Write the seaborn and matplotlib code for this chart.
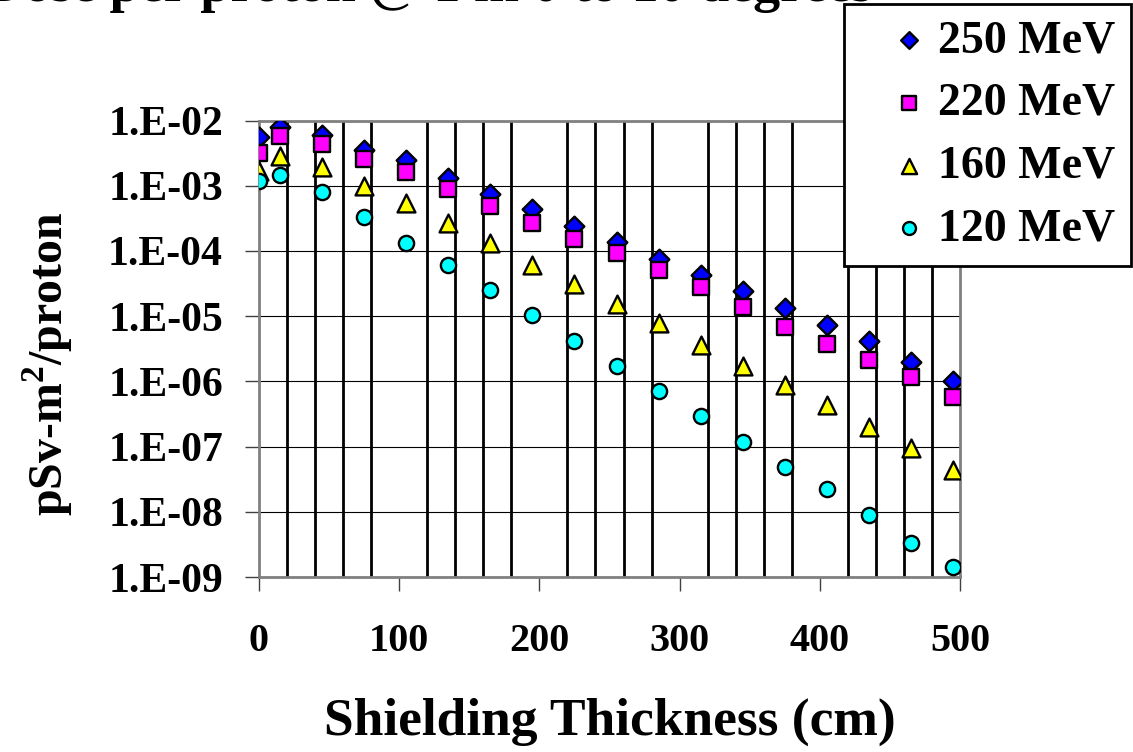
import numpy as np
import pandas as pd
import matplotlib
matplotlib.use("Agg")
import matplotlib.pyplot as plt
import seaborn as sns
from matplotlib.ticker import MultipleLocator, FixedLocator, FuncFormatter, NullLocator

# valeurs (pSv-m2/proton)
thickness = [0, 15, 45, 75, 105, 135, 165, 195, 225, 255, 285, 315, 345, 375, 405, 435, 465, 495]
dose_250 = [5.6e-3, 8.0e-3, 6.0e-3, 3.5e-3, 2.5e-3, 1.3e-3, 7.5e-4, 4.4e-4, 2.4e-4, 1.37e-4,
            7.4e-5, 4.2e-5, 2.4e-5, 1.32e-5, 7.3e-6, 4.1e-6, 2.0e-6, 1.0e-6]
dose_220 = [3.2e-3, 5.8e-3, 4.4e-3, 2.6e-3, 1.6e-3, 8.8e-4, 4.9e-4, 2.7e-4, 1.5e-4, 9.2e-5,
            5.1e-5, 2.8e-5, 1.4e-5, 6.9e-6, 3.8e-6, 2.1e-6, 1.15e-6, 5.8e-7]
dose_160 = [1.7e-3, 2.9e-3, 1.95e-3, 9.9e-4, 5.4e-4, 2.7e-4, 1.34e-4, 6.1e-5, 3.1e-5, 1.53e-5,
            7.8e-6, 3.6e-6, 1.72e-6, 8.8e-7, 4.3e-7, 2.0e-7, 9.6e-8, 4.4e-8]
dose_120 = [1.18e-3, 1.46e-3, 8.0e-4, 3.3e-4, 1.34e-4, 6.1e-5, 2.5e-5, 1.03e-5, 4.2e-6, 1.73e-6,
            7.2e-7, 2.9e-7, 1.19e-7, 4.9e-8, 2.2e-8, 8.9e-9, 3.35e-9, 1.4e-9]

energies = ["250 MeV", "220 MeV", "160 MeV", "120 MeV"]
series = [dose_250, dose_220, dose_160, dose_120]
colors = ["#0000FF", "#FF00FF", "#FFFF00", "#00FFFF"]
markers = ["D", "s", "^", "o"]
sizes = [100, 125, 165, 120]

sns.set_style("white")
plt.rcParams["font.family"] = ["Liberation Serif", "DejaVu Serif"]
plt.rcParams["font.weight"] = "bold"
plt.rcParams["mathtext.fontset"] = "custom"
plt.rcParams["mathtext.rm"] = "Liberation Serif:bold"
plt.rcParams["mathtext.bf"] = "Liberation Serif:bold"
for k in ["text.color", "axes.labelcolor", "xtick.color", "ytick.color"]:
    plt.rcParams[k] = "black"

fig = plt.figure(figsize=(11.33, 7.52), dpi=100)
W, H = 1133, 752
ax = fig.add_axes([259 / W, 1 - 577 / H, (960 - 259) / W, (577 - 120.5) / H])

for nom, vals, col, mk, s in zip(energies, series, colors, markers, sizes):
    df = pd.DataFrame({"epaisseur": thickness, "dose": vals})
    sns.scatterplot(data=df, x="epaisseur", y="dose", ax=ax, marker=mk, s=s,
                    color=col, edgecolor="black", linewidth=1.7, label=nom, zorder=3)

ax.set_yscale("log")
ax.set_ylim(1e-9, 1e-2)
ax.set_xlim(0, 500)

ax.yaxis.set_major_locator(FixedLocator([10.0 ** k for k in range(-9, -1)]))
ax.yaxis.set_minor_locator(NullLocator())
ax.yaxis.set_major_formatter(FuncFormatter(lambda v, p: "1.E-%02d" % round(-np.log10(v))))
ax.xaxis.set_major_locator(MultipleLocator(100))
ax.xaxis.set_minor_locator(MultipleLocator(20))

ax.grid(False)
ax.grid(True, axis="y", which="major", color="black", linewidth=0.8, zorder=1)
ax.grid(True, axis="x", which="minor", color="black", linewidth=2.0, zorder=1)
ax.set_axisbelow(True)

for sp in ax.spines.values():
    sp.set_color("#808080")
    sp.set_linewidth(2.0)
    sp.set_visible(True)

ax.tick_params(axis="y", which="major", direction="out", length=10, width=1.0,
               color="#404040", pad=16, labelsize=30, left=True)
ax.tick_params(axis="x", which="major", direction="out", length=10, width=1.0,
               color="#404040", pad=23, labelsize=29, bottom=True)
ax.tick_params(axis="x", which="minor", length=0)
for lab in ax.get_xticklabels() + ax.get_yticklabels():
    lab.set_fontweight("bold")

ax.set_xlabel("Shielding Thickness (cm)", fontsize=38.5, fontweight="bold")
ax.xaxis.set_label_coords(0.5, -0.265)
ax.set_ylabel("pSv-m$^{\\mathbf{2}}$/proton", fontsize=34.5, fontweight="bold")
ax.yaxis.set_label_coords(-0.262, 0.467)

fig.text(-15 / W, 1 - 1 / H, "Dose per proton @ 1 m 0 to 10 degrees", ha="left",
         va="baseline", fontsize=39, fontweight="bold")

leg = ax.legend(loc="upper right", bbox_to_anchor=(1131 / W, 1 - 4 / H),
                bbox_transform=fig.transFigure, borderaxespad=0, frameon=True,
                fancybox=False, framealpha=1, edgecolor="black", markerscale=0.85,
                handlelength=2.15, handletextpad=-0.45, labelspacing=0.45,
                borderpad=0.35, prop={"size": 33, "weight": "bold"})
leg.get_frame().set_linewidth(2.0)
leg.set_zorder(10)

fig.savefig("out.png", dpi=100)
